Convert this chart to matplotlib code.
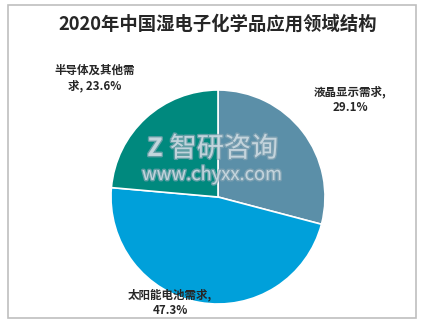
import matplotlib.pyplot as plt
import matplotlib.patheffects as pe
from matplotlib.patches import Rectangle

plt.rcParams['font.family'] = ['Noto Sans CJK SC', 'DejaVu Sans']

# data
title = '2020年中国湿电子化学品应用领域结构'
labels = ['液晶显示需求,', '太阳能电池需求,', '半导体及其他需求,']
values = [29.1, 47.3, 23.6]
colors = ['#5b8fa8', '#00a0da', '#00897e']

W, H = 424, 323
fig = plt.figure(figsize=(W / 100, H / 100), dpi=100)

# outer frame
fig.patches.append(Rectangle((8 / W, 5 / H), 408 / W, 313 / H, transform=fig.transFigure,
                             fill=False, edgecolor='#bfbfbf', linewidth=1.2))

fig.text(218 / W, 1 - 24 / H, title, ha='center', va='center', fontsize=13.2,
         fontweight='bold', color='#262626')

cx, cy, r = 218, 197, 107
ax = fig.add_axes([(cx - r) / W, (H - cy - r) / H, 2 * r / W, 2 * r / H])
ax.pie(values, colors=colors, startangle=90, counterclock=False,
       wedgeprops=dict(edgecolor='white', linewidth=1.2))
ax.set_xlim(-1, 1)
ax.set_ylim(-1, 1)
ax.set_aspect('equal')
ax.axis('off')

lab_kw = dict(ha='center', va='center', fontsize=8.3, fontweight='bold', color='#262626')
fig.text(350 / W, 1 - 92 / H, labels[0], **lab_kw)
fig.text(350 / W, 1 - 107 / H, f'{values[0]}%', **lab_kw)
fig.text(170 / W, 1 - 295 / H, labels[1], **lab_kw)
fig.text(170 / W, 1 - 310 / H, f'{values[1]}%', **lab_kw)
fig.text(95 / W, 1 - 70 / H, labels[2][:-2], **lab_kw)
fig.text(95 / W, 1 - 86 / H, labels[2][-2:] + f' {values[2]}%', **lab_kw)

# watermark
wm = [pe.withStroke(linewidth=2, foreground='#8aa7b5')]
fig.text(224 / W, 1 - 149 / H, '智研咨询', ha='center', va='center', fontsize=19.5,
         color='#d7e3ea', alpha=0.7, path_effects=wm)
fig.text(212 / W, 1 - 175 / H, 'www.chyxx.com', ha='center', va='center', fontsize=13.2,
         color='#d7e3ea', alpha=0.7, path_effects=wm)
fig.text(155 / W, 1 - 149 / H, 'Z', ha='center', va='center', fontsize=18, fontweight='bold',
         color='#d7e3ea', alpha=0.7, path_effects=wm)

fig.savefig('out.png', dpi=100)
